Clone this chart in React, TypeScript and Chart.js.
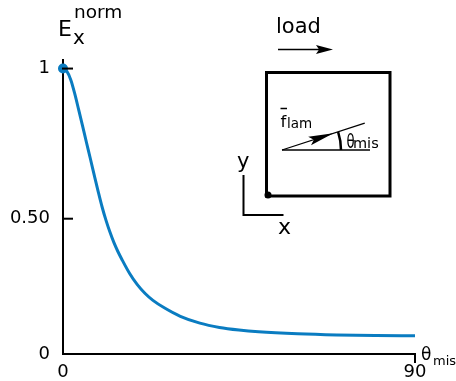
import React, { useEffect, useRef } from "react";
import { Chart, registerables } from "chart.js";

Chart.register(...registerables);

// Misalignment angle (deg) and normalized modulus
const thetaMis = [0, 1, 2, 3, 4, 5, 6, 7, 8, 9, 10, 11, 12, 13, 14, 15, 17, 19, 21, 23, 26, 30, 35, 40, 45, 50, 60, 70, 80, 90];
const eNorm = [1.0, 0.99, 0.96, 0.912, 0.856, 0.799, 0.741, 0.684, 0.626, 0.569, 0.515, 0.468, 0.427, 0.391, 0.36, 0.333, 0.283, 0.243, 0.212, 0.188, 0.161, 0.132, 0.108, 0.093, 0.084, 0.078, 0.071, 0.067, 0.065, 0.064];

const xTickValues = [0, 90];
const xTickLabels = ["0", "90"];
const yTickValues = [0, 0.474, 1];
const yTickLabels = ["0", "0.50", "1"];
const yMarkedTicks = [0.474, 1];

const FONT = '"DejaVu Sans", Verdana, sans-serif';
const BLUE = "#0a7cc1";
const INK = "#000";

function txt(ctx: CanvasRenderingContext2D, s: string, x: number, y: number, size: number, sx = 1) {
  ctx.save();
  ctx.font = `${size}px ${FONT}`;
  ctx.textBaseline = "alphabetic";
  ctx.textAlign = "left";
  ctx.translate(x, y);
  ctx.scale(sx, 1);
  ctx.fillText(s, 0, 0);
  ctx.restore();
}

function seg(ctx: CanvasRenderingContext2D, x1: number, y1: number, x2: number, y2: number, w: number) {
  ctx.lineWidth = w;
  ctx.beginPath();
  ctx.moveTo(x1, y1);
  ctx.lineTo(x2, y2);
  ctx.stroke();
}

function arrowHead(ctx: CanvasRenderingContext2D, tx: number, ty: number, ang: number, len: number, half: number) {
  const c = Math.cos(ang), s = Math.sin(ang);
  const bx = tx - c * len, by = ty - s * len;
  ctx.beginPath();
  ctx.moveTo(tx, ty);
  ctx.lineTo(bx - s * half, by + c * half);
  ctx.lineTo(bx + c * len * 0.18, by + s * len * 0.18);
  ctx.lineTo(bx + s * half, by - c * half);
  ctx.closePath();
  ctx.fill();
}

const overlay = {
  id: "overlay",
  afterDraw(chart: any) {
    const ctx: CanvasRenderingContext2D = chart.ctx;
    const xs = chart.scales.x;
    const ys = chart.scales.y;
    ctx.save();
    ctx.strokeStyle = INK;
    ctx.fillStyle = INK;
    ctx.lineCap = "butt";

    // inward tick marks on y axis
    const x0 = xs.getPixelForValue(0);
    for (const v of yMarkedTicks) {
      const y = ys.getPixelForValue(v);
      seg(ctx, x0 - 1, y, x0 + 10, y, 2);
    }
    // tick at end of x axis
    const x90 = xs.getPixelForValue(90);
    const y0 = ys.getPixelForValue(0);
    seg(ctx, x90, y0 - 1, x90, y0 + 9, 2);

    // y axis title E_x^norm
    txt(ctx, "E", 58, 36, 22);
    txt(ctx, "x", 73, 44, 20);
    txt(ctx, "norm", 74, 18, 18.5);

    // x axis title theta_mis
    txt(ctx, "\u03b8", 421, 360, 17);
    txt(ctx, "mis", 433, 365, 13);

    // ---- inset diagram ----
    txt(ctx, "load", 276, 33, 21);
    seg(ctx, 278, 49.5, 322, 49.5, 1.5);
    arrowHead(ctx, 333, 49.5, 0, 17, 4.5);

    ctx.lineWidth = 3;
    ctx.strokeRect(266.5, 72.5, 123.5, 123.5);
    ctx.beginPath();
    ctx.arc(268, 195, 3.5, 0, Math.PI * 2);
    ctx.fill();

    const ox = 282, oy = 150;
    const ang = -18 * Math.PI / 180;
    seg(ctx, ox, oy, 370, oy, 1.3);
    seg(ctx, ox, oy, ox + 87 * Math.cos(ang), oy + 87 * Math.sin(ang), 1.3);
    arrowHead(ctx, ox + 54 * Math.cos(ang), oy + 54 * Math.sin(ang), ang, 25, 4.5);
    ctx.lineWidth = 2.5;
    ctx.beginPath();
    ctx.arc(ox, oy, 59, ang, 0);
    ctx.stroke();

    txt(ctx, "f", 280.5, 127, 16.5);
    seg(ctx, 280.5, 108.5, 287, 108.5, 1.5);
    txt(ctx, "lam", 287, 128, 13.5);
    txt(ctx, "\u03b8", 346.5, 148, 19, 0.7);
    txt(ctx, "mis", 353, 148, 14.5);

    ctx.lineWidth = 2;
    ctx.beginPath();
    ctx.moveTo(243.5, 175);
    ctx.lineTo(243.5, 215);
    ctx.lineTo(283.5, 215);
    ctx.stroke();
    txt(ctx, "y", 237, 168, 21);
    txt(ctx, "x", 278, 234, 22);

    ctx.restore();
  },
};

export default function App() {
  const ref = useRef<HTMLCanvasElement | null>(null);

  useEffect(() => {
    if (!ref.current) return;
    const points = thetaMis.map((t, i) => ({ x: t, y: eNorm[i] }));
    const chart = new Chart(ref.current, {
      type: "line",
      data: {
        datasets: [
          {
            data: points,
            borderColor: BLUE,
            backgroundColor: BLUE,
            borderWidth: 3,
            cubicInterpolationMode: "monotone",
            pointRadius: (c: any) => (c.dataIndex === 0 ? 5 : 0),
            pointHoverRadius: 0,
            pointBorderWidth: 0,
            pointBackgroundColor: BLUE,
            clip: false,
          } as any,
        ],
      },
      options: {
        responsive: false,
        animation: false,
        events: [],
        layout: { padding: { left: 0, top: 60, right: 41, bottom: 0 } },
        plugins: {
          legend: { display: false },
          tooltip: { enabled: false },
          title: { display: false },
        },
        scales: {
          x: {
            type: "linear",
            min: 0,
            max: 90,
            grid: { display: false, drawTicks: false },
            border: { display: true, color: INK, width: 2 },
            afterBuildTicks: (s: any) => {
              s.ticks = xTickValues.map((v) => ({ value: v }));
            },
            afterFit: (s: any) => {
              s.height = 27;
            },
            ticks: {
              color: INK,
              font: { family: FONT, size: 18 },
              padding: 8,
              maxRotation: 0,
              autoSkip: false,
              callback: (_v: any, i: number) => xTickLabels[i],
            },
          },
          y: {
            type: "linear",
            min: 0,
            max: 1.03,
            grid: { display: false, drawTicks: false },
            border: { display: true, color: INK, width: 2 },
            afterBuildTicks: (s: any) => {
              s.ticks = yTickValues.map((v) => ({ value: v }));
            },
            afterFit: (s: any) => {
              s.width = 63;
            },
            ticks: {
              color: INK,
              font: { family: FONT, size: 18 },
              padding: 13,
              autoSkip: false,
              callback: (_v: any, i: number) => yTickLabels[i],
            },
          },
        },
      } as any,
      plugins: [overlay],
    });
    return () => chart.destroy();
  }, []);

  return (
    <div style={{ position: "fixed", left: 0, top: 0, width: 456, height: 381, background: "#fff" }}>
      <canvas ref={ref} width={456} height={381} style={{ display: "block", width: 456, height: 381 }} />
    </div>
  );
}
